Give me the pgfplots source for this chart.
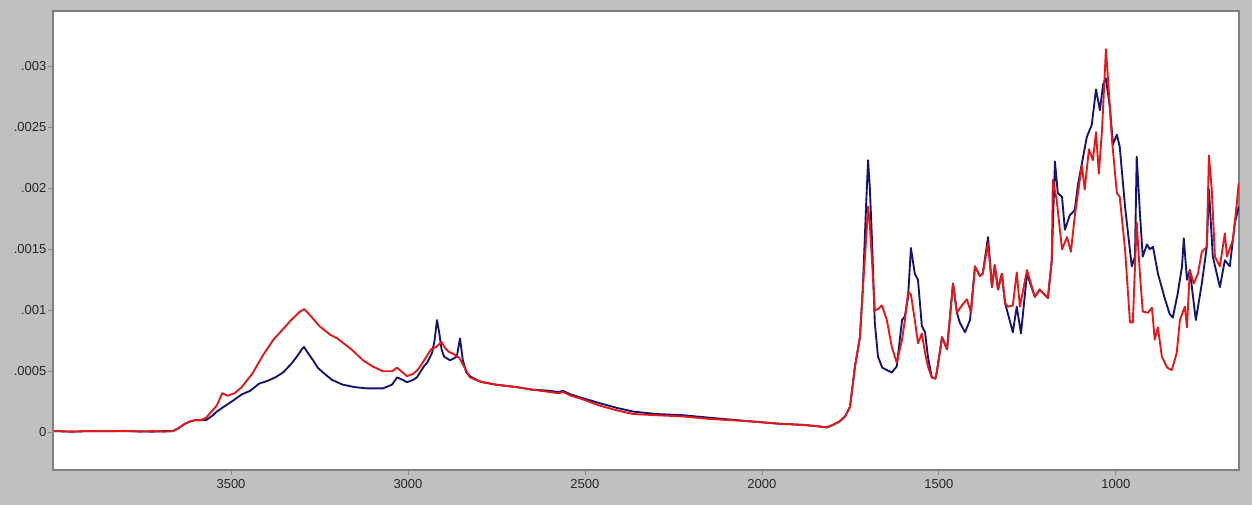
\documentclass[border=0pt]{standalone}
\usepackage{fontspec}
\setmainfont{Liberation Sans}
\usepackage{pgfplots}
\pgfplotsset{compat=1.18}
\definecolor{bgc}{RGB}{192,192,192}
\definecolor{sblue}{RGB}{20,20,115}
\definecolor{sred}{RGB}{232,22,22}
\begin{document}
\begin{tikzpicture}
\path[use as bounding box, fill=bgc] (0,0) rectangle (939pt,378.75pt);
\begin{axis}[
  at={(39.75pt,26.25pt)}, anchor=south west,
  scale only axis, width=889.5pt, height=344.25pt,
  x dir=reverse, xmin=652, xmax=4003,
  ymin=-0.000309, ymax=0.003453,
  axis background/.style={fill=white},
  axis line style={draw=black!50, line width=1.2pt},
  xtick={1000,1500,2000,2500,3000,3500},
  xticklabels={1000,1500,2000,2500,3000,3500},
  ytick={0,0.0005,0.001,0.0015,0.002,0.0025,0.003},
  yticklabels={0,.0005,.001,.0015,.002,.0025,.003},
  scaled y ticks=false,
  tick align=outside, major tick length=3.75pt,
  tick style={draw=black!45, line width=0.6pt},
  xtick pos=bottom, ytick pos=left,
  ticklabel style={font=\fontsize{9.75}{11}\selectfont, text=black!85},
  yticklabel style={inner sep=0pt, xshift=-1pt},
  xticklabel style={inner sep=0pt, yshift=-3pt},
  clip=true,
]
\addplot[sblue, line width=1.4pt, line join=round] coordinates {
(4000,0.00001) (3950,0.000005) (3900,0.00001) (3850,0.000008) (3800,0.00001)
(3760,0.000008) (3720,0.000005) (3690,0.00001) (3665,0.00001) (3650,0.00003)
(3630,0.00007) (3615,0.00009) (3600,0.0001) (3585,0.0001) (3570,0.0001)
(3551,0.00014) (3540,0.00017) (3520,0.00021) (3494,0.00026) (3470,0.00031)
(3446,0.00034) (3420,0.0004) (3398,0.00042) (3375,0.00045) (3353,0.00049)
(3330,0.00056) (3314,0.00062) (3300,0.00068) (3294,0.0007) (3285,0.00066)
(3268,0.00059) (3255,0.00053) (3240,0.00049) (3215,0.00043) (3184,0.00039)
(3150,0.00037) (3116,0.00036) (3071,0.00036) (3045,0.00039) (3031,0.00045)
(3015,0.00043) (3003,0.00041) (2985,0.00043) (2975,0.00045) (2955,0.00054)
(2946,0.00057) (2932,0.00065) (2925,0.00075) (2918,0.00092) (2912,0.00082)
(2905,0.00068) (2898,0.00062) (2881,0.00059) (2862,0.00062) (2853,0.00077)
(2845,0.00059) (2835,0.00049) (2825,0.00046)
(2800,0.00042) (2788,0.00041) (2750,0.00039) (2692,0.00037) (2650,0.00035)
(2599,0.00034) (2575,0.00033) (2562,0.00034) (2540,0.00031) (2506,0.00028)
(2460,0.00024) (2410,0.0002) (2364,0.00017) (2300,0.00015) (2223,0.00014)
(2150,0.00012) (2034,0.00009) (1950,0.00007) (1880,0.00006) (1845,0.00005)
(1816,0.00004) (1800,0.00006) (1780,0.00009) (1765,0.00013) (1751,0.00021)
(1737,0.00054) (1723,0.00078) (1715,0.00117) (1705,0.0019) (1700,0.00223)
(1695,0.002) (1689,0.00158) (1681,0.0009) (1672,0.00062) (1660,0.00053)
(1647,0.00051) (1633,0.00049) (1619,0.00054) (1604,0.00092) (1596,0.00095)
(1587,0.00111) (1579,0.00151) (1568,0.0013) (1559,0.00125) (1548,0.00087)
(1539,0.00082) (1531,0.00062) (1520,0.00045) (1510,0.00044) (1506,0.00049)
(1491,0.00078) (1477,0.00068) (1460,0.00122) (1449,0.00098) (1441,0.0009)
(1426,0.00082) (1412,0.00092) (1398,0.00136) (1384,0.00128) (1376,0.0013)
(1361,0.0016) (1350,0.00119) (1342,0.00137) (1333,0.00117) (1322,0.0013)
(1313,0.00106) (1291,0.00082) (1280,0.00103) (1268,0.00081) (1251,0.0013)
(1229,0.00111) (1215,0.00117) (1192,0.0011) (1181,0.00141) (1172,0.00222)
(1164,0.00196) (1152,0.00193) (1144,0.00166) (1130,0.00178) (1116,0.00182)
(1107,0.00203) (1082,0.00242) (1068,0.00252) (1056,0.00281) (1045,0.00264)
(1036,0.00285) (1028,0.0029) (1017,0.00267) (1008,0.00236) (997,0.00244)
(989,0.00234) (974,0.00185) (955,0.00136) (946,0.00144) (941,0.00226)
(932,0.0018) (924,0.00144) (912,0.00154) (904,0.0015) (895,0.00152)
(881,0.0013) (861,0.00109) (848,0.00097) (839,0.00094) (825,0.00114)
(813,0.00136) (808,0.00159) (799,0.00125) (791,0.00133) (774,0.00092)
(757,0.00122) (743,0.00152) (737,0.00199) (726,0.00144) (706,0.00119)
(692,0.00141) (678,0.00136) (664,0.00171) (653,0.00185)
};
\addplot[sred, line width=1.4pt, line join=round] coordinates {
(4000,0.00001) (3950,0.000005) (3900,0.00001) (3850,0.000008) (3800,0.000012)
(3760,0.000005) (3720,0.00001) (3690,0.000005) (3665,0.00001) (3650,0.00003)
(3630,0.00007) (3615,0.00009) (3600,0.0001) (3585,0.0001) (3570,0.00012)
(3555,0.00017) (3540,0.00022) (3525,0.00032) (3510,0.0003) (3490,0.00032)
(3470,0.00037) (3440,0.00048) (3410,0.00063) (3380,0.00076) (3355,0.00084)
(3330,0.00092) (3305,0.00099) (3293,0.00101) (3280,0.00097) (3265,0.00092)
(3250,0.00087) (3220,0.0008) (3200,0.00077) (3160,0.00068) (3127,0.00059)
(3100,0.00054) (3071,0.0005) (3045,0.0005) (3031,0.00053) (3015,0.00049)
(3003,0.00046) (2985,0.00048) (2970,0.00052) (2950,0.00061) (2935,0.00068)
(2920,0.0007) (2905,0.00074) (2895,0.00069) (2885,0.00066) (2870,0.00064)
(2855,0.00061) (2840,0.00053) (2825,0.00045) (2800,0.00042) (2788,0.00041)
(2750,0.00039) (2692,0.00037) (2650,0.00035) (2599,0.00033) (2575,0.00032)
(2562,0.00033) (2540,0.0003) (2506,0.00027) (2460,0.00022) (2410,0.00018)
(2364,0.00015) (2300,0.00014) (2223,0.00013) (2150,0.00011) (2034,0.00009)
(1950,0.00007) (1880,0.00006) (1845,0.00005) (1816,0.00004) (1800,0.00006)
(1780,0.00009) (1765,0.00013) (1751,0.00021) (1737,0.00054) (1723,0.00078)
(1715,0.00117) (1705,0.0016) (1700,0.00185) (1695,0.0017) (1689,0.00141)
(1681,0.001) (1672,0.00101) (1661,0.00104) (1647,0.00092) (1633,0.0007)
(1619,0.00057) (1604,0.00076) (1596,0.00092) (1587,0.00115) (1579,0.00113)
(1568,0.00092) (1559,0.00073) (1548,0.00081) (1539,0.00065) (1531,0.00054)
(1520,0.00045) (1510,0.00044) (1506,0.00049) (1491,0.00078) (1477,0.00068)
(1460,0.00122) (1449,0.00098) (1435,0.00104) (1421,0.00109) (1409,0.00098)
(1398,0.00136) (1384,0.00128) (1376,0.0013) (1361,0.00155) (1350,0.00119)
(1342,0.00137) (1333,0.00117) (1322,0.0013) (1313,0.00106) (1305,0.00103)
(1291,0.00104) (1280,0.00131) (1271,0.00103) (1251,0.00133) (1229,0.00111)
(1215,0.00117) (1192,0.0011) (1181,0.00141) (1178,0.00207) (1167,0.0019)
(1152,0.0015) (1138,0.0016) (1127,0.00148) (1116,0.00177) (1096,0.00219)
(1088,0.00199) (1076,0.00232) (1065,0.00223) (1056,0.00246) (1048,0.00212)
(1039,0.00248) (1028,0.00314) (1022,0.00289) (1011,0.0024) (997,0.00196)
(989,0.00193) (974,0.0015) (960,0.0009) (952,0.0009) (941,0.00172)
(932,0.0013) (924,0.00099) (909,0.00098) (898,0.00102) (890,0.00076)
(881,0.00086) (870,0.00062) (855,0.00053) (842,0.00051) (828,0.00065)
(819,0.00092) (805,0.00103) (799,0.00086) (791,0.00133) (780,0.00122)
(768,0.0013) (757,0.00148) (743,0.00152) (737,0.00227) (729,0.00199)
(720,0.00144) (706,0.00136) (692,0.00163) (686,0.00144) (669,0.00158)
(658,0.00188) (653,0.00204)
};
\end{axis}
\end{tikzpicture}
\end{document}
